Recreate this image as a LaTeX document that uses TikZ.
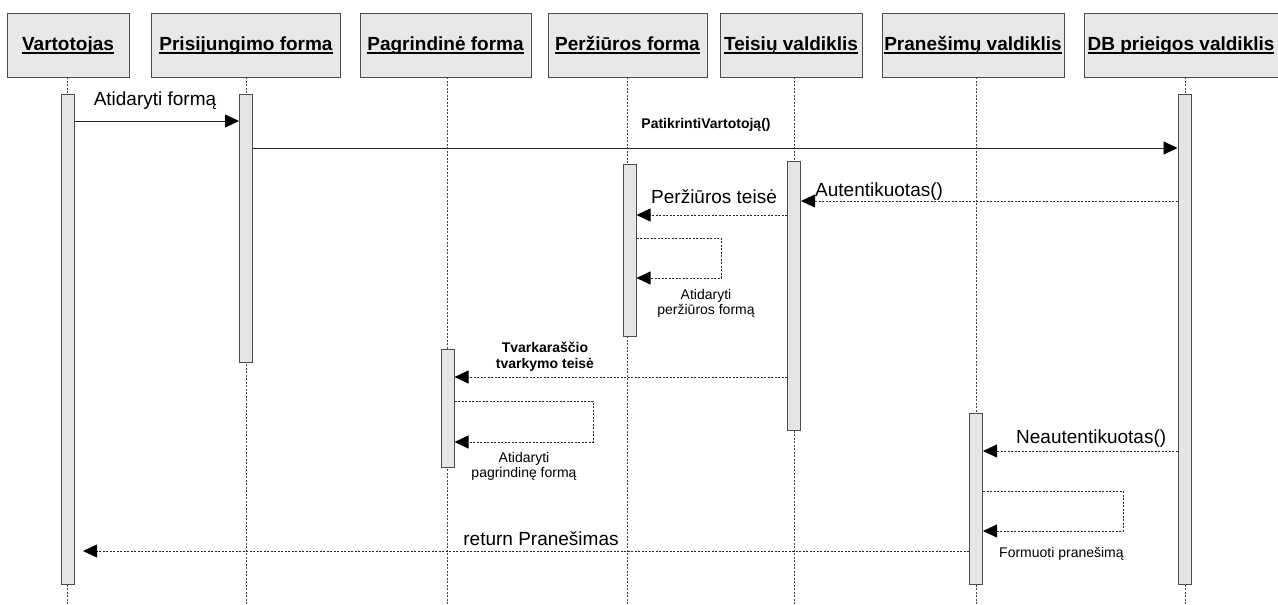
\documentclass[tikz,border=0pt]{standalone}
\usepackage{fontspec}
\setmainfont{Liberation Sans}
\usetikzlibrary{arrows.meta}

% underline at a fixed depth, whatever the letters
\newcommand{\uname}[1]{\setbox0\hbox{#1}\rlap{\rule[-3.5pt]{\wd0}{1.1pt}}\box0}

\tikzset{
  object/.style={draw=black!70, fill=black!9, line width=0.8pt, minimum height=64pt, inner sep=0pt,
    text height=14pt, text depth=4pt, font=\bfseries\fontsize{19}{22}\selectfont},
  lifeline/.style={draw=black!75, line width=0.7pt, dash pattern=on 2pt off 1.5pt},
  activation/.style={draw=black!70, fill=black!10, line width=1pt, minimum width=13pt, inner sep=0pt, anchor=north},
  call/.style={draw=black!85, line width=0.8pt, -{Triangle[length=14pt,width=13pt,fill=black,color=black]}},
  reply/.style={call, dash pattern=on 2pt off 1.5pt},
  msg/.style={inner sep=0pt, font=\fontsize{19}{22}\selectfont},
  note/.style={inner sep=0pt, align=center, font=\fontsize{14}{15.5}\selectfont},
  boldnote/.style={note, font=\bfseries\fontsize{14}{16}\selectfont},
}

\begin{document}
\begin{tikzpicture}[x=1pt, y=-1pt, >=Stealth]
	\useasboundingbox (0,0) rectangle (1278,605);
	% objects and their lifelines
	\foreach \n/\cx/\w/\lx/\t in {usr/68/122/67/Vartotojas, login/246/189/246/Prisijungimo forma,
		main/445.5/171/447/Pagrindinė forma, view/627.5/159/627/Peržiūros forma,
		rights/791/142/794/Teisių valdiklis, notify/973/182/976/Pranešimų valdiklis,
		db/1181/194/1185/DB prieigos valdiklis}{
		\node[object, minimum width=\w] (\n) at (\cx,45) {\uname{\t}};
		\draw[lifeline] (\lx,77) -- (\lx,605);
	}
	% activation bars
	\node[activation, minimum height=490pt] (usrA) at (67.5,94) {};
	\node[activation, minimum height=268pt] (loginA) at (246,94) {};
	\node[activation, minimum height=490pt] (dbA) at (1184.5,94) {};
	\node[activation, minimum height=172pt] (viewA) at (629.5,164) {};
	\node[activation, minimum height=269pt] (rightsA) at (794,161) {};
	\node[activation, minimum height=118pt] (mainA) at (447.5,349) {};
	\node[activation, minimum height=171pt] (notifyA) at (976,413) {};
	% login
	\draw[call] (usrA.east |- 0,121) -- (loginA.west |- 0,121);
	\node[msg, anchor=base] (open) at (155,105) {Atidaryti formą};
	\draw[call] (loginA.east |- 0,148) -- (dbA.west |- 0,148);
	\node[boldnote, anchor=base] (check) at (706,128) {PatikrintiVartotoją()};
	% authenticated
	\draw[reply] (dbA.west |- 0,201) -- (rightsA.east |- 0,201);
	\node[msg, anchor=base west] (auth) at (815,196) {Autentikuotas()};
	\draw[reply] (rightsA.west |- 0,215) -- (viewA.east |- 0,215);
	\node[msg, anchor=base west] (viewright) at (651,203) {Peržiūros teisė};
	\draw[reply] (viewA.east |- 0,238) -- (721,238) -- (721,278) -- (viewA.east |- 0,278);
	\node[note, anchor=north] (openview) at (706,289) {Atidaryti\\peržiūros formą};
	\draw[reply] (rightsA.west |- 0,377) -- (mainA.east |- 0,377);
	\node[boldnote, anchor=north] (editright) at (545,342) {Tvarkaraščio\\tvarkymo teisė};
	\draw[reply] (mainA.east |- 0,401) -- (593,401) -- (593,442) -- (mainA.east |- 0,442);
	\node[note, anchor=north] (openmain) at (524,452) {Atidaryti\\pagrindinę formą};
	% not authenticated
	\draw[reply] (dbA.west |- 0,451) -- (notifyA.east |- 0,451);
	\node[msg, anchor=base west] (noauth) at (1016,443) {Neautentikuotas()};
	\draw[reply] (notifyA.east |- 0,491) -- (1123,491) -- (1123,531) -- (notifyA.east |- 0,531);
	\node[note, anchor=base west] (build) at (999,557) {Formuoti pranešimą};
	\coordinate (back) at (83,551);
	\draw[reply] (notifyA.west |- 0,551) -- (back);
	\node[msg, anchor=base] (ret) at (541,545) {return Pranešimas};
\end{tikzpicture}
\end{document}
